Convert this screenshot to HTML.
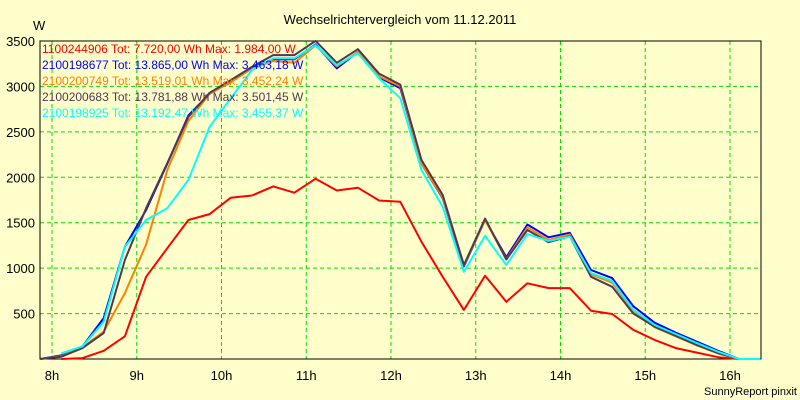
<!DOCTYPE html>
<html><head><meta charset="utf-8"><style>
body{margin:0;background:#ffffcc;}
svg{display:block;font-family:"Liberation Sans",sans-serif;}
</style></head><body>
<svg id="chart" width="800" height="400" viewBox="0 0 800 400">
<rect width="800" height="400" fill="#ffffcc"/>
<text x="400" y="24" text-anchor="middle" font-size="13">Wechselrichtervergleich vom 11.12.2011</text>
<text x="33" y="30" font-size="13">W</text>
<g id="grid"></g><g id="axes"></g><g id="series"></g><g id="legend"></g>
<text x="797" y="395" text-anchor="end" font-size="11">SunnyReport pinxit</text>
</svg>
<script>
const times=[7.86,8.11,8.36,8.61,8.86,9.11,9.36,9.61,9.86,10.11,10.36,10.61,10.86,11.11,11.36,11.61,11.86,12.11,12.36,12.61,12.86,13.11,13.36,13.61,13.86,14.11,14.36,14.61,14.86,15.11,15.36,15.61,15.86,16.11,16.36];
const redVals=[null,0,10,90,250,905,1220,1530,1595,1775,1800,1900,1830,1984,1855,1885,1745,1730,1290,905,540,917,630,833,780,780,532,495,320,210,120,70,20,0,null];
const blueVals=[0,40,140,450,1235,1640,2150,2680,2920,3050,3200,3300,3300,3463,3200,3380,3100,2980,2150,1770,1020,1530,1120,1480,1340,1390,980,890,580,400,290,190,90,0,0];
const orangeVals=[0,30,130,300,725,1260,2080,2620,2920,3050,3200,3280,3260,3452,3220,3380,3110,3000,2150,1780,1030,1530,1100,1450,1310,1370,930,840,530,350,250,150,60,0,0];
const darkVals=[0,25,120,285,1090,1660,2155,2665,2930,3070,3215,3345,3345,3501,3260,3410,3140,3020,2190,1805,1035,1545,1095,1420,1285,1350,905,795,500,355,255,155,65,0,0];
const cyanVals=[null,60,140,410,1235,1530,1660,1970,2555,2870,3180,3310,3310,3455,3235,3365,3090,2870,2080,1675,960,1355,1035,1375,1300,1345,945,860,540,375,275,175,80,0,0];
const yTicks=[500,1000,1500,2000,2500,3000,3500];
const xTicks=[8,9,10,11,12,13,14,15,16];
const xTickLabels=["8h","9h","10h","11h","12h","13h","14h","15h","16h"];
const legendLabels=["1100244906 Tot: 7.720,00 Wh Max: 1.984,00 W","2100198677 Tot: 13.865,00 Wh Max: 3.463,18 W","2100200749 Tot: 13.519,01 Wh Max: 3.452,24 W","2100200683 Tot: 13.781,88 Wh Max: 3.501,45 W","2100198925 Tot: 13.192,47 Wh Max: 3.455,37 W"];

const L=40,R=761,T=41,B=359;
const x=t=>52+(t-8)*84.75;
const y=v=>B-(v/3500)*(B-T);
const NS="http://www.w3.org/2000/svg";
function mk(tag,attrs,parent){const e=document.createElementNS(NS,tag);for(const k in attrs)e.setAttribute(k,attrs[k]);parent.appendChild(e);return e;}
const grid=document.getElementById('grid'),axes=document.getElementById('axes'),ser=document.getElementById('series'),leg=document.getElementById('legend');
yTicks.forEach(v=>{
  const l=mk('line',{x1:L,x2:R,y1:y(v),y2:y(v),stroke:'#00dd00','stroke-dasharray':'4,3'},grid);
  
  
  const t=mk('text',{x:35,y:y(v)+5,'text-anchor':'end','font-size':'13'},axes);
  t.textContent=v;
  
  
});
xTicks.forEach((h,i)=>{
  const l=mk('line',{x1:x(h),x2:x(h),y1:T,y2:B,stroke:'#00dd00','stroke-dasharray':'4,3'},grid);
  
  
  const t=mk('text',{x:x(h),y:380,'text-anchor':'middle','font-size':'13'},axes);
  t.textContent=xTickLabels[i];
  
  
});
const frame=mk('rect',{x:L,y:T,width:R-L,height:B-T,fill:'none',stroke:'#000','stroke-width':1},axes);


const series=[[redVals,'#ff0000','series-1100244906'],[blueVals,'#0000ff','series-2100198677'],[orangeVals,'#ff8000','series-2100200749'],[darkVals,'#503850','series-2100200683'],[cyanVals,'#00ffff','series-2100198925']];
series.forEach(([vals,col,name])=>{
  let d='';let pen=false;
  vals.forEach((v,i)=>{if(v===null){pen=false;return;}d+=(pen?'L':'M')+x(times[i]).toFixed(1)+','+y(v).toFixed(1);pen=true;});
  const p=mk('path',{d:d,fill:'none',stroke:col,'stroke-width':2,'stroke-linejoin':'round'},ser);
  
  
});
legendLabels.forEach((s,i)=>{
  const t=mk('text',{x:42,y:53+i*16,'font-size':'12',fill:series[i][1]},leg);
  t.textContent=s;
  
  
});
</script>
</body></html>
